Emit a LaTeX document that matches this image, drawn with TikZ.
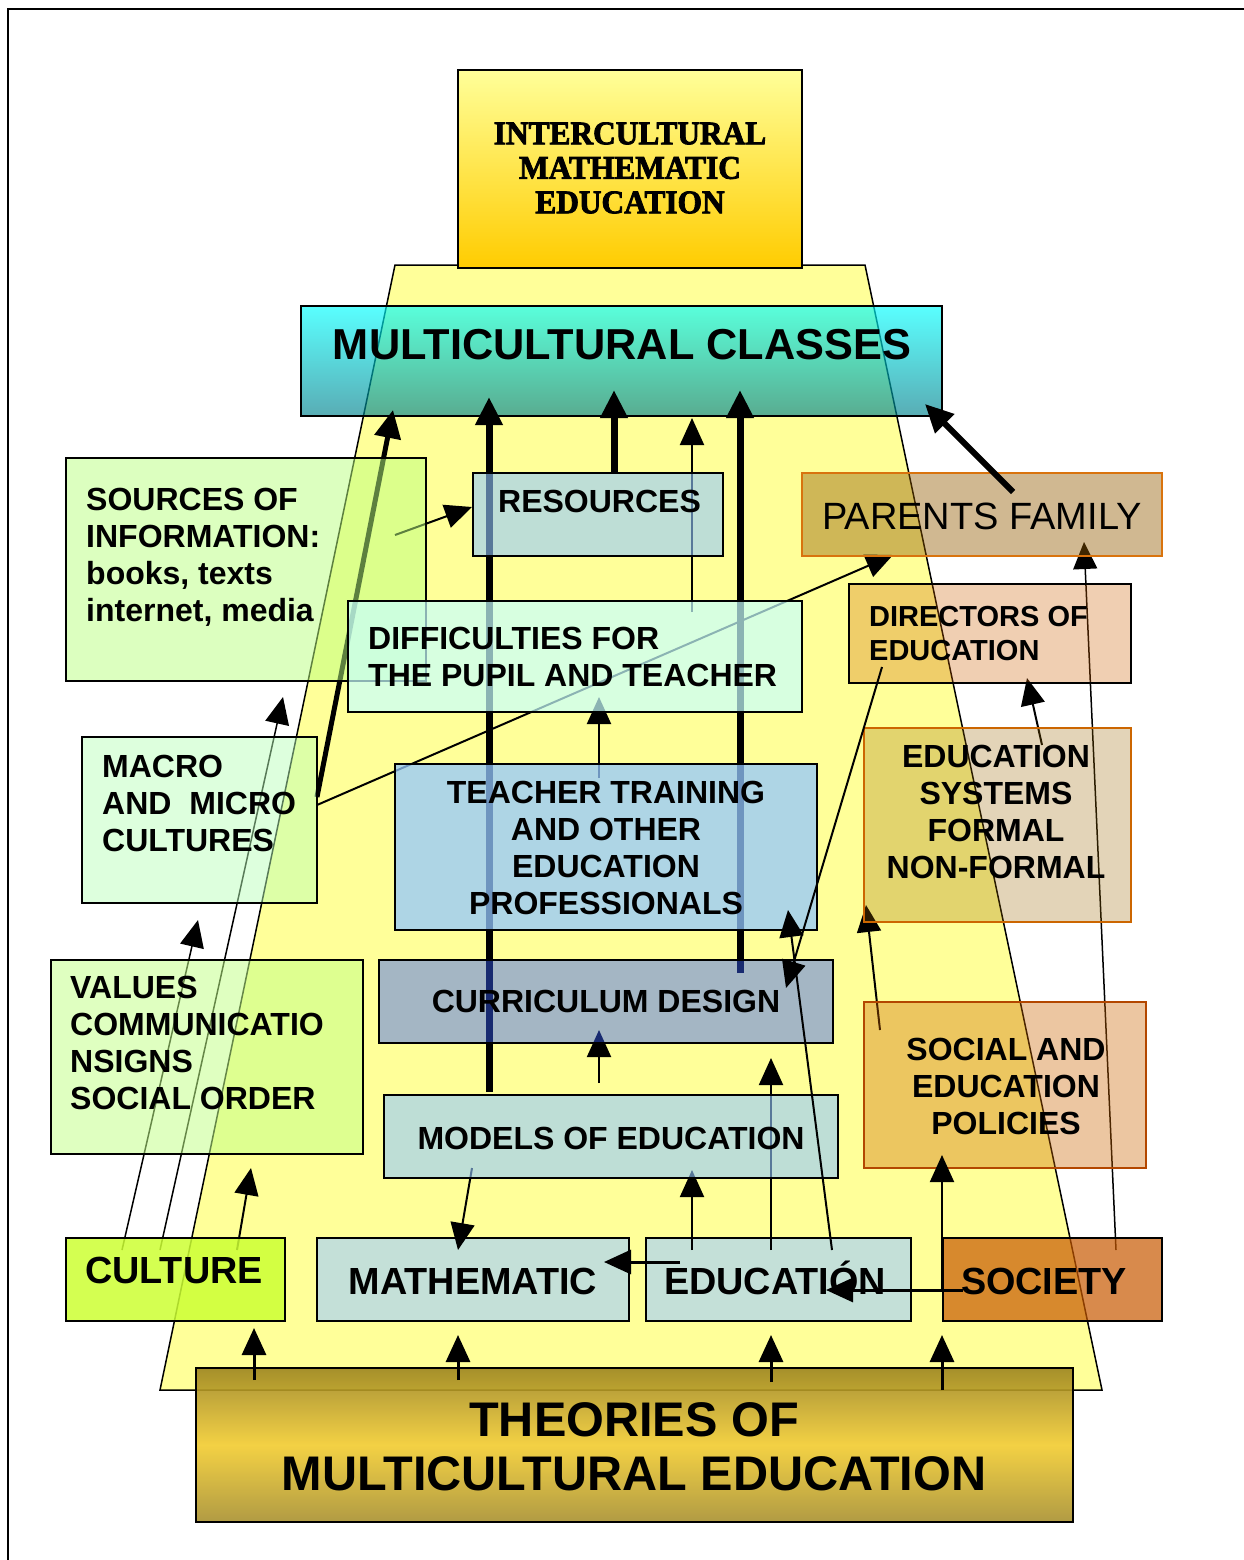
\documentclass[tikz,border=0pt]{standalone}
\usepackage{fontspec}
\setmainfont{Liberation Sans}
\newfontfamily\headserif[FakeBold=2.5,FakeStretch=0.95]{Liberation Serif}
\usetikzlibrary{arrows.meta}

\pgfdeclarelayer{trap}
\pgfdeclarelayer{low}
\pgfdeclarelayer{under}
\pgfdeclarelayer{over}
\pgfsetlayers{trap,low,under,main,over}

\definecolor{trapyellow}{RGB}{255,255,153}
\definecolor{topA}{RGB}{255,255,153}
\definecolor{topB}{RGB}{255,204,0}
\definecolor{multiA}{RGB}{0,255,255}
\definecolor{multiB}{RGB}{0,128,140}
\definecolor{srcC}{RGB}{186,255,127}
\definecolor{paleblue}{RGB}{148,200,255}
\definecolor{parentsC}{RGB}{146,90,0}
\definecolor{parentsLine}{RGB}{217,115,13}
\definecolor{diffC}{RGB}{199,255,255}
\definecolor{dirC}{RGB}{205,95,0}
\definecolor{macroC}{RGB}{184,255,184}
\definecolor{edsysC}{RGB}{153,102,0}
\definecolor{edsysLine}{RGB}{204,102,0}
\definecolor{valuesC}{RGB}{194,255,136}
\definecolor{curricC}{RGB}{55,95,250}
\definecolor{policyC}{RGB}{204,101,0}
\definecolor{policyLine}{RGB}{179,71,0}
\definecolor{cultureC}{RGB}{204,255,51}
\definecolor{mathC}{RGB}{196,224,216}
\definecolor{societyC}{RGB}{199,88,0}
\definecolor{theoA}{RGB}{156,132,32}
\definecolor{theoB}{RGB}{242,204,48}
\definecolor{theoC}{RGB}{168,144,48}

\begin{document}
\begin{tikzpicture}[x=1pt,y=-1pt,
  box/.style={draw=black,line width=2pt,inner sep=0pt,outer sep=0pt,anchor=north west},
  txt/.style={font=\bfseries\fontsize{32}{37}\selectfont,inner sep=0pt},
  bigtxt/.style={font=\bfseries\fontsize{37.8}{42}\selectfont,inner sep=0pt},
  link/.style={line width=2pt,-{Triangle[length=27pt,width=24pt]}},
  heavy/.style={line width=7pt,-{Triangle[length=28pt,width=26pt]}},
]
\useasboundingbox (0,0) rectangle (1244,1560);

% page frame
\draw[line width=2pt] (8,1560) -- (8,9) -- (1244,9);

% the yellow pyramid behind everything
\begin{pgfonlayer}{trap}
  \draw[line width=1.5pt,fill=trapyellow] (395,265) -- (865,265) -- (1102,1390) -- (160,1390) -- cycle;
\end{pgfonlayer}

% boxes lying below the connectors
\begin{pgfonlayer}{low}
  \node[box,minimum width=641pt,minimum height=110pt,top color=multiA,bottom color=multiB,fill opacity=0.65] (multi) at (301,306) {};
  \node[box,minimum width=312pt,minimum height=83pt,fill=mathC] (math) at (317,1238) {};
  \node[box,minimum width=265pt,minimum height=83pt,fill=mathC] (educ) at (646,1238) {};
\end{pgfonlayer}

% translucent boxes
\node[box,minimum width=344pt,minimum height=198pt,top color=topA,bottom color=topB] (top) at (458,70) {};
\node[box,minimum width=360pt,minimum height=223pt,fill=srcC,fill opacity=0.5] (sources) at (66,458) {};
\node[box,minimum width=250pt,minimum height=83pt,fill=paleblue,fill opacity=0.6] (resources) at (473,473) {};
\node[box,draw=parentsLine,minimum width=360pt,minimum height=83pt,fill=parentsC,fill opacity=0.43] (parents) at (802,473) {};
\node[box,minimum width=454pt,minimum height=111pt,fill=diffC,fill opacity=0.7] (diff) at (348,601) {};
\node[box,minimum width=282pt,minimum height=99pt,fill=dirC,fill opacity=0.3] (directors) at (849,584) {};
\node[box,minimum width=235pt,minimum height=166pt,fill=macroC,fill opacity=0.48] (macro) at (82,737) {};
\node[box,minimum width=422pt,minimum height=166pt,fill=paleblue,fill opacity=0.75] (teacher) at (395,764) {};
\node[box,draw=edsysLine,minimum width=267pt,minimum height=194pt,fill=edsysC,fill opacity=0.28] (edsys) at (864,728) {};
\node[box,minimum width=312pt,minimum height=194pt,fill=valuesC,fill opacity=0.53] (values) at (51,960) {};
\node[box,minimum width=454pt,minimum height=83pt,fill=curricC,fill opacity=0.45] (curric) at (379,960) {};
\node[box,draw=policyLine,minimum width=282pt,minimum height=166pt,fill=policyC,fill opacity=0.37] (policies) at (864,1002) {};
\node[box,minimum width=454pt,minimum height=83pt,fill=paleblue,fill opacity=0.6] (models) at (384,1095) {};
\node[box,minimum width=219pt,minimum height=83pt,fill=cultureC,fill opacity=0.85] (culture) at (66,1238) {};
\node[box,minimum width=219pt,minimum height=83pt,fill=societyC,fill opacity=0.7] (society) at (943,1238) {};
\node[box,minimum width=877pt,minimum height=154pt,top color=theoA,bottom color=theoC,middle color=theoB,fill opacity=0.9] (theories) at (196,1368) {};

% connectors seen through the boxes
\begin{pgfonlayer}{under}
  \draw[link,line width=1.5pt] ([shift={(56,12)}]culture.north west) -- ([shift={(116,17)}]macro.south west);
  \draw[link,line width=1.5pt] ([shift={(94,12)}]culture.north west) -- ([shift={(217,16)}]sources.south west);
  \draw[link] ([shift={(171,12)}]culture.north west) -- ([shift={(200,14)}]values.south west);
  \draw[heavy,line width=5pt] ([shift={(0,60)}]macro.north east) -- ([shift={(92,-6)}]multi.south west);
  \draw[link] ([shift={(0,68)}]macro.north east) -- ([shift={(91,-1)}]parents.south west);
  \draw[link] ([shift={(329,77)}]sources.north west) -- ([shift={(-1,34)}]resources.north west);
  \draw[heavy] ([shift={(141,-1)}]resources.north west) -- ([shift={(313,-26)}]multi.south west);
  \draw[link] ([shift={(344,11)}]diff.north west) -- ([shift={(391,2)}]multi.south west);
  \draw[heavy] ([shift={(105,-3)}]models.north west) -- ([shift={(188,-19)}]multi.south west);
  \draw[heavy] ([shift={(361,13)}]curric.north west) -- ([shift={(439,-26)}]multi.south west);
  \draw[link] ([shift={(204,14)}]teacher.north west) -- ([shift={(251,-15)}]diff.south west);
  \draw[link] ([shift={(215,-12)}]models.north west) -- ([shift={(220,-13)}]curric.south west);
  \draw[link] ([shift={(88,73)}]models.north west) -- ([shift={(141,12)}]math.north west);
  \draw[link] ([shift={(46,12)}]educ.north west) -- ([shift={(308,-8)}]models.south west);
  \draw[link] ([shift={(125,12)}]educ.north west) -- ([shift={(392,15)}]curric.south west);
  \draw[link,line width=1.5pt] ([shift={(173,12)}]society.north west) -- ([shift={(282,-14)}]parents.south west);
  \draw[link] ([shift={(16,28)}]policies.north west) -- ([shift={(2,-17)}]edsys.south west);
  \draw[link] ([shift={(178,17)}]edsys.north west) -- ([shift={(178,-5)}]directors.south west);
\end{pgfonlayer}

% connectors drawn on top
\begin{pgfonlayer}{over}
  \draw[link] ([shift={(186,12)}]educ.north west) -- ([shift={(393,-20)}]teacher.south west);
  \draw[link] ([shift={(33,83)}]directors.north west) -- ([shift={(-47,28)}]curric.north east);
  \draw[link,line width=3pt] ([shift={(34,24)}]educ.north west) -- ([shift={(-25,24)}]math.north east);
  \draw[link,line width=3pt] ([shift={(20,52)}]society.north west) -- ([shift={(180,52)}]educ.north west);
  \draw[link] ([shift={(-1,52)}]society.north west) -- ([shift={(78,-13)}]policies.south west);
  \draw[heavy,line width=6pt] ([shift={(211,19)}]parents.north west) -- ([shift={(-17,-12)}]multi.south east);
  \draw[link,line width=3pt] ([shift={(58,12)}]theories.north west) -- ([shift={(188,7)}]culture.south west);
  \draw[link,line width=3pt] ([shift={(262,12)}]theories.north west) -- ([shift={(141,14)}]math.south west);
  \draw[link,line width=3pt] ([shift={(575,14)}]theories.north west) -- ([shift={(125,14)}]educ.south west);
  \draw[link,line width=3pt] ([shift={(746,22)}]theories.north west) -- ([shift={(-1,14)}]society.south west);
\end{pgfonlayer}

% labels
\node[font=\headserif\bfseries\fontsize{33}{34.5}\selectfont,align=center,inner sep=0pt] (topT) at (630,168) {INTERCULTURAL\\MATHEMATIC\\EDUCATION};
\node[font=\bfseries\fontsize{43.3}{48}\selectfont,inner sep=0pt] (multiT) at (622,345) {MULTICULTURAL CLASSES};
\node[txt,anchor=west,align=left] (sourcesT) at (86,557) {SOURCES OF\\INFORMATION:\\books, texts\\internet, media};
\node[txt,anchor=west] (resourcesT) at (498,501) {RESOURCES};
\node[font=\fontsize{38}{44}\selectfont,inner sep=0pt] (parentsT) at (982,516) {PARENTS FAMILY};
\node[font=\bfseries\fontsize{29}{34}\selectfont,inner sep=0pt,anchor=west,align=left] (directorsT) at (869,634) {DIRECTORS OF\\EDUCATION};
\node[txt,anchor=west,align=left] (diffT) at (368,657) {DIFFICULTIES FOR\\THE PUPIL AND TEACHER};
\node[txt,anchor=west,align=left] (macroT) at (102,803) {MACRO\\AND\hspace{0.56em}MICRO\\CULTURES};
\node[txt,align=center] (teacherT) at (606,847.5) {TEACHER TRAINING\\AND OTHER\\EDUCATION\\PROFESSIONALS};
\node[txt,align=center] (edsysT) at (996,812) {EDUCATION\\SYSTEMS\\FORMAL\\NON-FORMAL};
\node[txt,anchor=west,align=left] (valuesT) at (70,1043) {VALUES\\COMMUNICATIO\\NSIGNS\\SOCIAL ORDER};
\node[txt] (curricT) at (606,1001) {CURRICULUM DESIGN};
\node[txt,align=center] (policiesT) at (1006,1086.5) {SOCIAL AND\\EDUCATION\\POLICIES};
\node[txt] (modelsT) at (611,1138) {MODELS OF EDUCATION};
\node[bigtxt] (cultureT) at (174,1270) {CULTURE};
\node[bigtxt] (mathT) at (473,1281) {MATHEMATIC};
\node[bigtxt,anchor=base] (educT) at (775,1294) {EDUCATIÓN};
\node[bigtxt] (societyT) at (1044,1281) {SOCIETY};
\node[font=\bfseries\fontsize{48.6}{54}\selectfont,align=center,inner sep=0pt] (theoriesT) at (634,1447) {THEORIES OF\\MULTICULTURAL EDUCATION};
\end{tikzpicture}
\end{document}
